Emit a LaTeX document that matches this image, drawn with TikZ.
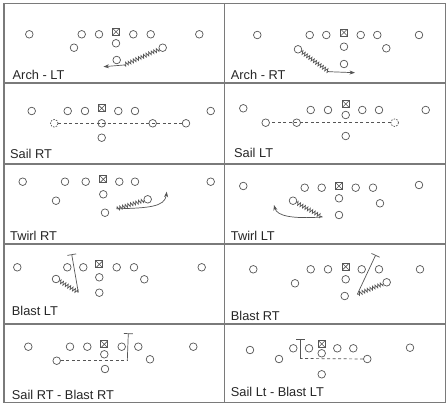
\documentclass[tikz,border=0pt]{standalone}
\usepackage{fontspec}
\setmainfont{Liberation Sans}
\usetikzlibrary{decorations.pathmorphing,arrows.meta}
\definecolor{ln}{HTML}{555555}
\definecolor{gridc}{HTML}{7A7A7A}
\definecolor{txt}{HTML}{262626}
\tikzset{
  pl/.style={circle,draw=ln,line width=0.7pt,minimum size=7.6pt,inner sep=0pt},
  ghost/.style={pl,dash pattern=on 1.5pt off 1.2pt},
  ctr/.style={rectangle,draw=ln,line width=0.7pt,minimum size=7pt,inner sep=0pt,
    path picture={\draw[ln,line width=0.6pt] (path picture bounding box.north west) -- (path picture bounding box.south east)
      (path picture bounding box.north east) -- (path picture bounding box.south west);}},
  zig/.style={draw=ln,line width=0.7pt,decorate,decoration={zigzag,amplitude=1.8pt,segment length=2.8pt}},
  mv/.style={draw=ln,line width=0.7pt,-{Stealth[length=5.5pt,width=4pt]}},
  blk/.style={draw=ln,line width=0.7pt,-{Bar[width=9pt,line width=0.7pt]}},
  sail/.style={draw=ln,line width=0.7pt,dash pattern=on 3pt off 2.5pt},
  lbl/.style={anchor=base west,inner sep=0pt,text=txt,font=\fontsize{12.8pt}{14pt}\selectfont},
  gridl/.style={draw=gridc,line width=1.1pt}
}
\begin{document}
\begin{tikzpicture}[x=1pt,y=-1pt]
\useasboundingbox (0,0) rectangle (448,405);
\fill[white] (0,0) rectangle (448,405);
% grid
\draw[gridl] (4,3.5) rectangle (445.5,402.5);
\draw[gridl] (224.5,3.5) -- (224.5,402.5);
\foreach \yy in {83,164,244,324} \draw[gridl] (4,\yy) -- (445.5,\yy);

% ---------- Panel 1: Arch - LT
\node[pl] (a1) at (29.3,34.3) {};
\node[pl] (a2) at (81.7,34.3) {};
\node[pl] (a3) at (99,34.3) {};
\node[ctr] (a4) at (116,31.7) {};
\node[pl] (a5) at (133.3,34.3) {};
\node[pl] (a6) at (150.7,34.3) {};
\node[pl] (a7) at (199.3,34.3) {};
\node[pl] (a8) at (74,47.7) {};
\node[pl] (a9) at (116,43.3) {};
\node[pl] (a10) at (162.7,47.7) {};
\node[pl] (a11) at (116.7,60) {};
\coordinate (az) at (124,65);
\coordinate (at) at (103.5,66.7);
\draw[zig] (a10) -- (az);
\draw[mv] (az) -- (at);
\node[lbl] (la) at (12.5,79.3) {Arch - LT};

% ---------- Panel 2: Arch - RT
\node[pl] (b1) at (257.3,35) {};
\node[pl] (b2) at (309.7,35) {};
\node[pl] (b3) at (326.3,35) {};
\node[ctr] (b4) at (344,32.5) {};
\node[pl] (b5) at (360.7,35) {};
\node[pl] (b6) at (377.3,35) {};
\node[pl] (b7) at (419,35) {};
\node[pl] (b8) at (344,46.7) {};
\node[pl] (b9) at (386.3,48.3) {};
\node[pl] (b10) at (298,49.3) {};
\node[pl] (b11) at (344,64) {};
\coordinate (bz) at (329,71.7);
\coordinate (bt) at (355,72.7);
\draw[zig] (b10) -- (bz);
\draw[mv] (bz) -- (bt);
\node[lbl] (lb) at (230.7,79.3) {Arch - RT};

% ---------- Panel 3: Sail RT
\node[pl] (c1) at (31.7,111) {};
\node[pl] (c2) at (67.7,111) {};
\node[pl] (c3) at (85,111) {};
\node[ctr] (c4) at (101.7,108.3) {};
\node[pl] (c5) at (118.3,111) {};
\node[pl] (c6) at (135,111) {};
\node[pl] (c7) at (210.7,111) {};
\node[ghost] (c8) at (54.3,123.3) {};
\node[pl] (c9) at (101.7,123.3) {};
\node[pl] (c10) at (152.7,123.3) {};
\node[pl] (c11) at (186,123.3) {};
\node[pl] (c12) at (101.7,137.7) {};
\draw[sail] (c8) -- (c11);
\node[lbl] (lc) at (10,158.3) {Sail RT};

% ---------- Panel 4: Sail LT
\node[pl] (d1) at (243.3,108.3) {};
\node[pl] (d2) at (310.7,110) {};
\node[pl] (d3) at (328,110) {};
\node[ctr] (d4) at (345.7,104) {};
\node[pl] (d5) at (362.3,110) {};
\node[pl] (d6) at (379,110) {};
\node[pl] (d7) at (425.7,110) {};
\node[pl] (d8) at (345.7,115) {};
\node[pl] (d9) at (265.7,122.7) {};
\node[pl] (d10) at (296.7,122.7) {};
\node[ghost] (d11) at (394.7,122.7) {};
\node[pl] (d12) at (345.7,136) {};
\draw[sail] (d11) -- (d9);
\node[lbl] (ld) at (234,157.7) {Sail LT};

% ---------- Panel 5: Twirl RT
\node[pl] (e1) at (22.7,181.7) {};
\node[pl] (e2) at (65,181.7) {};
\node[pl] (e3) at (85.7,181.7) {};
\node[ctr] (e4) at (103.3,179.3) {};
\node[pl] (e5) at (119.3,181.7) {};
\node[pl] (e6) at (135,181.7) {};
\node[pl] (e7) at (210.7,181.7) {};
\node[pl] (e8) at (103.3,194.3) {};
\node[pl] (e9) at (56,200.7) {};
\node[pl] (e10) at (147.7,199.3) {};
\node[pl] (e11) at (105,212.7) {};
\coordinate (ez) at (116.7,208.8);
\coordinate (et) at (166.7,191.7);
\draw[zig] (e10) -- (ez);
\draw[mv] (ez) .. controls (148,208) and (165,207) .. (et);
\node[lbl] (le) at (10,240) {Twirl RT};

% ---------- Panel 6: Twirl LT
\node[pl] (f1) at (243.3,186) {};
\node[pl] (f2) at (304.7,187.7) {};
\node[pl] (f3) at (321.7,187.7) {};
\node[ctr] (f4) at (339,186) {};
\node[pl] (f5) at (355.7,187.7) {};
\node[pl] (f6) at (373,187.7) {};
\node[pl] (f7) at (419,185) {};
\node[pl] (f8) at (339,198.3) {};
\node[pl] (f9) at (293,200.7) {};
\node[pl] (f10) at (380,203.3) {};
\node[pl] (f11) at (339,215) {};
\coordinate (fz) at (322.3,217);
\coordinate (ft) at (274,205);
\draw[zig] (f9) -- (fz);
\draw[mv] (fz) .. controls (292,219) and (277,216) .. (ft);
\node[lbl] (lf) at (230.7,240) {Twirl LT};

% ---------- Panel 7: Blast LT
\node[pl] (g1) at (17.3,267.3) {};
\node[pl] (g2) at (67.3,267.3) {};
\node[pl] (g3) at (83.3,267.3) {};
\node[ctr] (g4) at (99.3,264.3) {};
\node[pl] (g5) at (116.7,267.3) {};
\node[pl] (g6) at (134,267.3) {};
\node[pl] (g7) at (201.7,267.3) {};
\node[pl] (g8) at (99.3,277.3) {};
\node[pl] (g9) at (56,279) {};
\node[pl] (g10) at (144.3,279.3) {};
\node[pl] (g11) at (99.3,292.7) {};
\coordinate (gz) at (78.3,292.3);
\coordinate (gt) at (71.7,254.3);
\draw[zig] (g9) -- (gz);
\draw[blk] (gz) -- (gt);
\node[lbl] (lg) at (11.7,315) {Blast LT};

% ---------- Panel 8: Blast RT
\node[pl] (h1) at (253.3,269.3) {};
\node[pl] (h2) at (310.7,269.3) {};
\node[pl] (h3) at (328,269.3) {};
\node[ctr] (h4) at (345.7,266.7) {};
\node[pl] (h5) at (361.7,269.3) {};
\node[pl] (h6) at (379,269.3) {};
\node[pl] (h7) at (420,269.3) {};
\node[pl] (h8) at (345.7,279.3) {};
\node[pl] (h9) at (295,283.3) {};
\node[pl] (h10) at (386.7,282.3) {};
\node[pl] (h11) at (344.7,296) {};
\coordinate (hz) at (357.3,294.3);
\coordinate (ht) at (375.7,255);
\draw[zig] (h10) -- (hz);
\draw[blk] (hz) -- (ht);
\node[lbl] (lh) at (230.7,320) {Blast RT};

% ---------- Panel 9: Sail RT - Blast RT
\node[pl] (i1) at (28.3,346.7) {};
\node[pl] (i2) at (70,346.7) {};
\node[pl] (i3) at (87.3,346.7) {};
\node[ctr] (i4) at (104.3,344.3) {};
\node[pl] (i5) at (121.7,346.7) {};
\node[pl] (i6) at (138.3,346.7) {};
\node[pl] (i7) at (193.3,346.7) {};
\node[pl] (i8) at (104.3,354.3) {};
\node[pl] (i9) at (56.7,360.7) {};
\node[pl] (i10) at (150,359.3) {};
\node[pl] (i11) at (105,369) {};
\coordinate (iz) at (127.3,360.7);
\coordinate (it) at (128.3,333.3);
\draw[sail] (i9) -- (iz);
\draw[blk] (iz) -- (it);
\node[lbl] (li) at (11.7,399) {Sail RT - Blast RT};

% ---------- Panel 10: Sail Lt - Blast LT
\node[pl] (j1) at (250,350) {};
\node[pl] (j2) at (293.3,348.3) {};
\node[pl] (j3) at (309,348.3) {};
\node[ctr] (j4) at (321.7,344) {};
\node[pl] (j5) at (337.3,348.3) {};
\node[pl] (j6) at (353.3,348.3) {};
\node[pl] (j7) at (410,347.7) {};
\node[pl] (j8) at (321.7,353.3) {};
\node[pl] (j9) at (279,359) {};
\node[pl] (j10) at (367.3,359) {};
\node[pl] (j11) at (321.7,374.3) {};
\coordinate (jz) at (300.7,358.5);
\coordinate (jt) at (300.7,339);
\draw[sail] (j10) -- (jz);
\draw[blk] (jz) -- (jt);
\node[lbl] (lj) at (230.7,396.7) {Sail Lt - Blast LT};
\end{tikzpicture}
\end{document}
